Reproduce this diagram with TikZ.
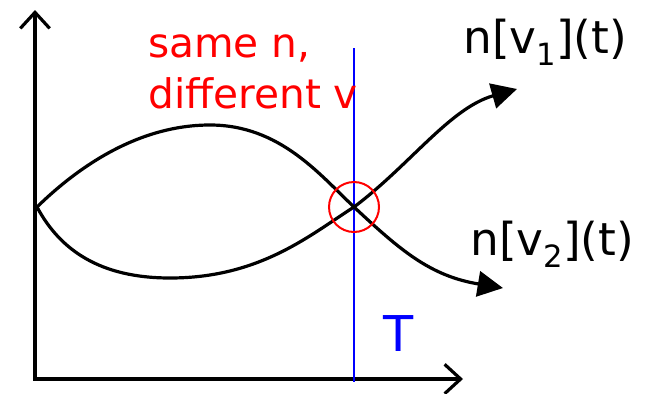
\documentclass[tikz,border=0pt]{standalone}
\usepackage{fontspec}
\setmainfont{DejaVu Sans}
\usetikzlibrary{arrows.meta}
\definecolor{markred}{HTML}{FF0000}
\definecolor{markblue}{HTML}{0000FF}
\newcommand{\lowsub}[1]{\raisebox{-0.28em}{\fontsize{23}{23}\selectfont #1}}

\begin{document}
\begin{tikzpicture}[x=0.75pt, y=-0.75pt,
  axisline/.style={line width=2.4pt, -{Straight Barb[length=12pt, width=22pt, line width=2.4pt]}},
  trajline/.style={line width=2.4pt, -{Triangle[length=19pt, width=19pt]}},
  biglabel/.style={anchor=base west, inner sep=0pt, font=\fontsize{34}{40}\selectfont}]
  \useasboundingbox (0,0) rectangle (646,393);

  % --- axes ---
  \coordinate (origin) at (35,379);
  \coordinate (ytop) at (35,10);
  \coordinate (xend) at (463,379);
  \draw[axisline] (origin) -- (ytop);
  \draw[axisline] ([xshift=-1.2pt]origin) -- (xend);

  % --- time T ---
  \coordinate (ttop) at (354,48);
  \coordinate (tbot) at (354,382);
  \draw[markblue, line width=1.5pt] (ttop) -- (tbot);
  \node[biglabel, text=markblue, font=\fontsize{37}{40}\selectfont] (tlab) at (383,351) {T};

  % --- the two trajectories ---
  \coordinate (start) at (37,207);
  \coordinate (cross) at (354,207);
  \coordinate (tipone) at (517,89);
  \coordinate (tiptwo) at (503,288);
  \draw[trajline] (start) .. controls (80,165) and (140,125) .. (210,125)
    .. controls (280,125) and (320,175) .. (cross)
    .. controls (400,250) and (430,276) .. (tiptwo);
  \draw[trajline] (start) .. controls (60,250) and (100,278) .. (170,278)
    .. controls (260,278) and (310,235) .. (cross)
    .. controls (410,165) and (450,108) .. (tipone);

  % --- crossing mark ---
  \node[draw=markred, line width=1.5pt, circle, minimum size=50*0.75pt, inner sep=0pt] (ring) at (cross) {};

  % --- labels ---
  \node[biglabel] (vone) at (463,53) {n[v\lowsub{1}](t)};
  \node[biglabel] (vtwo) at (470,255) {n[v\lowsub{2}](t)};
  \node[biglabel, text=markred, font=\fontsize{30.5}{36}\selectfont] (same) at (148,57) {same n,};
  \node[biglabel, text=markred, font=\fontsize{30.5}{36}\selectfont] (diff) at (148,108) {different v};
\end{tikzpicture}
\end{document}
